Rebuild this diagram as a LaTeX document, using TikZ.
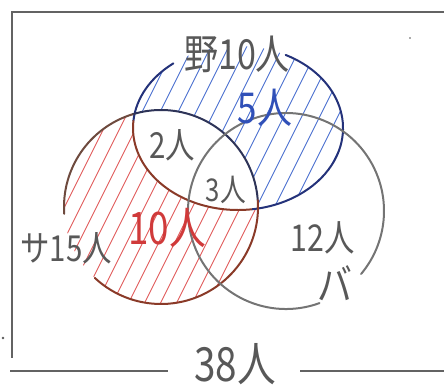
\documentclass[tikz,border=0pt]{standalone}
\usepackage{fontspec}
\newfontfamily\cjk{Noto Sans CJK JP}
\definecolor{pencil}{HTML}{585858}
\definecolor{navyc}{HTML}{24327A}
\definecolor{navyd}{HTML}{2E3458}
\definecolor{brownc}{HTML}{8A3A28}
\definecolor{browngray}{HTML}{6E4A3E}
\definecolor{grayc}{HTML}{747474}
\definecolor{bluehatch}{HTML}{4A6FD0}
\definecolor{redhatch}{HTML}{E05A5A}
\definecolor{redtext}{HTML}{D03A3A}
\definecolor{bluetext}{HTML}{3050B8}
\begin{document}
\begin{tikzpicture}[x=1pt,y=-1pt,
  outline/.style={line width=2pt,line cap=round},
  framestyle/.style={line width=1.8pt,color=grayc!85!black},
  hatchb/.style={line width=0.9pt,color=bluehatch},
  hatchr/.style={line width=0.9pt,color=redhatch},
  lbl/.style={inner sep=0pt,text=pencil,transform shape,xscale=0.92,yscale=1.12}]
\useasboundingbox (0,0) rectangle (444,386);
\coordinate (cY) at (238,128);
\coordinate (cS) at (161,207);
\coordinate (cB) at (286,211);
% hatching
\begin{scope}
  \clip (cY) ellipse[x radius=105,y radius=82];
  \foreach \x in {-200,-182,...,470} \draw[hatchb] (\x,400) -- (\x+200,0);
\end{scope}
\begin{scope}
  \clip (cS) circle[radius=97];
  \foreach \x in {-192,-176,...,470} \draw[hatchr] (\x,400) -- (\x+200,0);
\end{scope}
\begin{scope}
  \clip (cY) ellipse[x radius=105,y radius=82];
  \fill[white] (cS) circle[radius=97];
\end{scope}
% frame
\coordinate (ftr) at (444,12);
\coordinate (ftl) at (12,12);
\coordinate (fbl) at (12,358);
\draw[framestyle] (ftr) -- (ftl) -- (fbl);
\coordinate (bl1) at (10,371);
\coordinate (bl2) at (168,371);
\coordinate (br1) at (300,371);
\coordinate (br2) at (444,371);
\draw[framestyle] (bl1) -- (bl2);
\draw[framestyle] (br1) -- (br2);
\fill[pencil] (3,338) circle[radius=1.3];
\fill[pencil] (410,38) circle[radius=0.8];
% circle of 野
\draw[outline,navyc] (cY) ++(185:105 and 82) arc[start angle=185,end angle=232,x radius=105,y radius=82];
\draw[outline,brownc] (cY) ++(82:105 and 82) arc[start angle=82,end angle=185,x radius=105,y radius=82];
\draw[outline,navyc] (cY) ++(-63:105 and 82) arc[start angle=-63,end angle=82,x radius=105,y radius=82];
% circle of サ
\draw[outline,navyd] (cS) ++(253:97) arc[start angle=253,end angle=356,radius=97];
\draw[outline,brownc] (cS) ++(-4:97) arc[start angle=-4,end angle=133,radius=97];
\draw[outline,browngray] (cS) ++(176:97) arc[start angle=176,end angle=253,radius=97];
% circle of バ
\draw[outline,grayc] (cB) ++(70:98) arc[start angle=70,end angle=400,radius=98];
% labels
\node[lbl,font=\cjk\fontsize{37}{37}\selectfont] (tY) at (237,54) {野10人};
\node[lbl,text=bluetext,font=\cjk\fontsize{38}{38}\selectfont] (t5) at (265,108) {5人};
\node[lbl,font=\cjk\fontsize{32}{32}\selectfont] (t2) at (172,145) {2人};
\node[lbl,font=\cjk\fontsize{28}{28}\selectfont] (t3) at (226,190) {3人};
\node[lbl,font=\cjk\fontsize{32}{32}\selectfont] (tS) at (66,248) {サ15人};
\node[lbl,text=redtext,font=\cjk\fontsize{40}{40}\selectfont] (t10) at (167,228) {10人};
\node[lbl,font=\cjk\fontsize{33}{33}\selectfont] (t12) at (323,238) {12人};
\node[lbl,font=\cjk\fontsize{38}{38}\selectfont] (tB) at (335,283) {バ};
\node[lbl,font=\cjk\fontsize{42}{42}\selectfont] (t38) at (235,364) {38人};
\end{tikzpicture}
\end{document}
